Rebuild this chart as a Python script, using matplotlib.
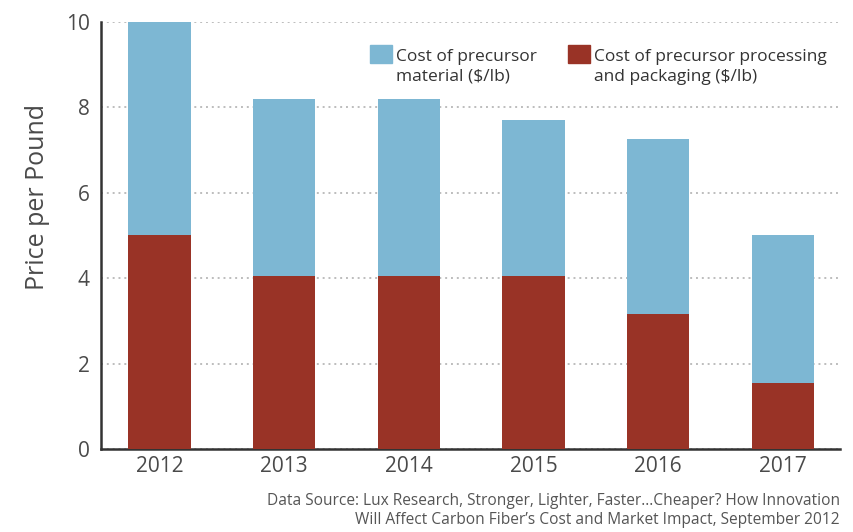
import matplotlib.pyplot as plt
from matplotlib.patches import Rectangle
import numpy as np

plt.rcParams['font.family'] = ['Open Sans', 'DejaVu Sans']

years = ['2012', '2013', '2014', '2015', '2016', '2017']
processing = [5.0, 4.05, 4.05, 4.05, 3.15, 1.55]      # precursor processing and packaging
material = [5.0, 4.15, 4.15, 3.65, 4.1, 3.45]         # precursor material, stacked on top

blue = '#7db7d3'
red = '#993326'
text_grey = '#4a4a4a'

fig = plt.figure(figsize=(8.54, 5.32), dpi=100)
ax = fig.add_axes([0.118, 0.156, 0.866, 0.803])

x = np.arange(len(years))
ax.bar(x, processing, width=0.5, color=red, zorder=3)
ax.bar(x, material, width=0.5, bottom=processing, color=blue, zorder=3)

ax.set_ylim(0, 10)
ax.set_xlim(-0.47, 5.46)
ax.set_yticks([0, 2, 4, 6, 8, 10])
ax.set_xticks(x)
ax.set_xticklabels(years)
ax.tick_params(length=0, labelsize=15, colors=text_grey)
ax.tick_params(axis='x', pad=5)
ax.tick_params(axis='y', pad=8)

ax.yaxis.grid(True, linestyle=(0, (1, 2)), color='#bdbdbd', linewidth=1.4, zorder=0)
for side in ['top', 'right']:
    ax.spines[side].set_visible(False)
for side in ['left', 'bottom']:
    ax.spines[side].set_color('#333333')
    ax.spines[side].set_linewidth(1.8)

ax.set_ylabel('Price per Pound', fontsize=18, color=text_grey)
ax.yaxis.set_label_coords(-0.069, 0.59)

# legend boxes, top-aligned with their two-line labels
legend_items = [
    (blue, 'Cost of precursor\nmaterial ($/lb)', 0.4333, 0.4637),
    (red, 'Cost of precursor processing\nand packaging ($/lb)', 0.6651, 0.6956),
]
for color, label, px, tx in legend_items:
    fig.patches.append(Rectangle((px, 0.8816), 0.0258, 0.0338, color=color,
                                 transform=fig.transFigure, figure=fig))
    fig.text(tx, 0.908, label, ha='left', va='top', fontsize=12.5,
             color='#333333', linespacing=1.3)

fig.text(0.9836, 0.041,
         'Data Source: Lux Research, Stronger, Lighter, Faster...Cheaper? How Innovation\n'
         'Will Affect Carbon Fiber\u2019s Cost and Market Impact, September 2012',
         ha='right', va='center', fontsize=11.2, color='#555555', linespacing=1.25)

fig.savefig('out.png', dpi=100)
